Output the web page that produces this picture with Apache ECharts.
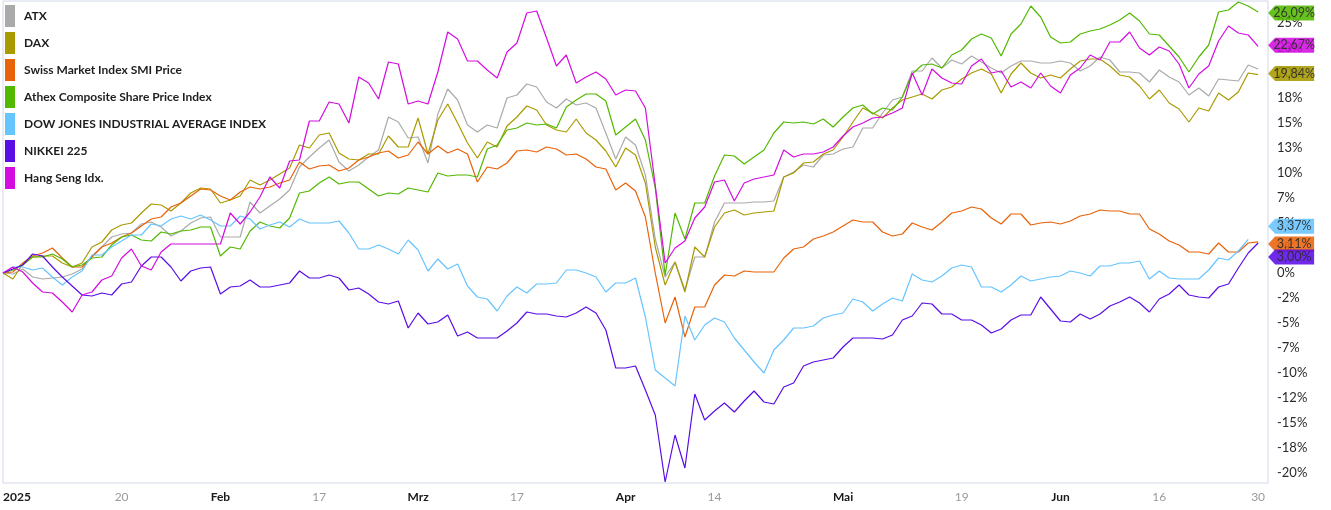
<!DOCTYPE html>
<html>
<head>
<meta charset="utf-8">
<script src="https://cdn.jsdelivr.net/npm/echarts@6/dist/echarts.min.js"></script>
<style>html,body{margin:0;padding:0;background:#fff}#c{width:1331px;height:510px}</style>
</head>
<body>
<div id="c"></div>
<script>
// ---- data ----
const seriesNames = ['ATX', 'DAX', 'Swiss Market Index SMI Price', 'Athex Composite Share Price Index',
  'DOW JONES INDUSTRIAL AVERAGE INDEX', 'NIKKEI 225', 'Hang Seng Idx.'];
const seriesColors = ['#aaaaaa', '#a99a00', '#e8620a', '#52b800', '#66c4ff', '#5b0de6', '#d30de0'];

const atx = [0, -0.1, 0.4, -0.4, -0.6, -0.5, -0.4, -0.1, 0.4, 1.7,
  2.6, 3.6, 3.9, 4.0, 4.9, 5.1, 4.6, 3.7, 4.2, 5.0,
  5.5, 5.6, 3.6, 3.6, 3.6, 7.1, 6.0, 6.7, 7.4, 8.3,
  10.6, 11.6, 12.5, 13.3, 11.1, 10.2, 10.8, 11.6, 12.3, 15.6,
  15.1, 13.5, 13.6, 11.0, 15.9, 18.4, 17.3, 14.8, 14.1, 14.8,
  14.5, 17.5, 17.8, 18.9, 18.6, 17.1, 16.5, 17.4, 16.8, 17.0,
  16.5, 14.0, 11.4, 13.6, 12.8, 9.8, 3.4, -0.4, 1.1, -1.7,
  1.6, 1.6, 5.1, 7.0, 7.0, 7.0, 7.1, 7.1, 7.2, 9.6,
  10.1, 10.8, 10.6, 11.8, 11.9, 12.4, 12.6, 14.5, 14.5, 16.0,
  17.3, 17.6, 20.2, 20.2, 21.5, 20.5, 21.3, 20.9, 21.7, 21.1,
  20.5, 20.0, 20.7, 21.2, 21.2, 21.0, 21.0, 21.2, 21.0, 20.2,
  20.7, 21.6, 21.3, 20.1, 20.1, 20.0, 19.1, 20.3, 19.6, 19.1,
  17.8, 18.5, 17.7, 19.4, 19.3, 19.2, 20.8, 20.4];

const dax = [0, -0.6, 0.9, 1.6, 1.7, 1.7, 1.0, 0.6, 1.0, 2.6,
  3.1, 4.3, 4.8, 5.0, 6.0, 6.9, 6.8, 6.2, 7.0, 8.0,
  8.5, 8.4, 7.0, 7.3, 7.7, 9.3, 8.8, 9.3, 9.9, 10.5,
  12.8, 12.5, 13.8, 14.0, 12.0, 11.4, 11.3, 11.9, 11.9, 13.7,
  12.6, 12.6, 15.5, 11.9, 15.3, 16.9, 15.0, 13.0, 11.5, 13.1,
  12.6, 14.7, 15.6, 16.7, 16.3, 14.8, 14.3, 14.1, 15.4, 14.0,
  13.3, 12.2, 10.6, 12.5, 11.8, 9.0, 2.6, -1.2, 1.1, -1.9,
  2.6, 1.6, 4.6, 6.0, 6.3, 5.8, 6.0, 6.1, 6.2, 9.6,
  10.0, 11.0, 11.1, 11.9, 12.3, 13.6, 15.1, 16.5, 16.0, 15.5,
  16.5, 17.3, 17.6, 17.9, 17.4, 18.3, 18.6, 19.4, 20.0, 20.4,
  19.9, 18.0, 19.9, 21.0, 20.0, 19.5, 19.8, 19.5, 20.4, 21.2,
  21.4, 21.4, 20.7, 19.8, 19.6, 18.7, 17.4, 18.3, 17.0, 16.4,
  15.1, 16.5, 16.2, 18.0, 17.3, 18.1, 20.0, 19.84];

const smi = [0, 0.1, 1.0, 1.7, 2.0, 2.5, 1.5, 0.6, 0.6, 1.6,
  2.6, 3.0, 3.6, 4.0, 4.7, 5.4, 5.6, 6.6, 7.0, 7.7,
  8.4, 8.3, 7.7, 7.3, 8.1, 8.6, 8.4, 8.6, 9.0, 9.3,
  11.1, 10.4, 10.7, 10.8, 10.2, 10.5, 11.3, 11.6, 12.0, 12.2,
  11.5, 11.8, 13.1, 11.9, 12.7, 12.0, 12.4, 11.9, 9.1, 10.6,
  10.4, 11.0, 12.2, 12.3, 12.1, 12.6, 12.4, 11.8, 11.9, 11.4,
  10.6, 10.4, 8.3, 9.0, 8.2, 5.6, 0.0, -5.0, -2.4, -6.4,
  -3.4, -3.4, -1.2, -0.2, -0.3, 0.2, 0.1, 0.1, 0.1, 1.5,
  2.4, 2.6, 3.4, 3.7, 4.1, 4.7, 5.3, 5.1, 5.1, 4.1,
  3.7, 3.9, 5.0, 4.6, 4.3, 5.1, 6.0, 6.2, 6.6, 6.4,
  5.5, 4.9, 5.9, 5.9, 4.8, 5.0, 5.1, 4.9, 5.2, 5.7,
  5.9, 6.3, 6.2, 6.2, 5.9, 5.9, 4.4, 3.9, 3.2, 2.8,
  2.1, 2.1, 1.9, 3.0, 2.1, 2.1, 3.0, 3.11];

const athex = [0, 0.3, 0.8, 1.6, 1.6, 1.9, 1.4, 0.6, 0.8, 1.5,
  1.6, 2.8, 3.6, 3.8, 3.3, 3.2, 4.1, 3.9, 4.2, 4.3,
  4.6, 4.6, 1.7, 2.6, 2.4, 4.2, 5.1, 4.7, 4.5, 5.5,
  8.0, 8.2, 9.0, 9.6, 8.9, 9.1, 9.1, 8.4, 7.7, 8.0,
  7.9, 8.5, 8.3, 8.1, 10.0, 9.7, 9.8, 9.8, 9.6, 12.4,
  12.8, 14.3, 14.5, 15.0, 14.8, 14.9, 14.5, 16.6, 17.3, 17.9,
  17.9, 17.2, 13.8, 14.6, 15.4, 13.3, 8.5, -0.2, 6.0, 3.4,
  7.0, 7.0, 9.7, 11.8, 11.7, 10.9, 11.6, 12.3, 14.0, 15.1,
  15.0, 15.1, 14.9, 15.4, 14.6, 15.6, 16.5, 16.8, 15.9, 16.5,
  16.3, 17.6, 19.9, 20.8, 20.9, 20.5, 21.8, 22.3, 23.4, 23.9,
  23.5, 21.7, 23.9, 24.9, 26.7, 25.6, 23.6, 23.0, 23.1, 23.9,
  24.2, 24.4, 24.8, 25.3, 26.0, 25.2, 23.9, 23.8, 22.7, 21.6,
  20.1, 21.6, 22.8, 26.1, 26.3, 27.1, 26.7, 26.09];

const dowJones = [0, 0.6, 0.6, 0.3, 0.5, -0.4, -1.2, -0.4, 0.2, 1.8,
  1.8, 2.6, 3.2, 3.8, 3.8, 4.9, 4.7, 5.4, 5.7, 5.4,
  5.8, 5.3, 4.7, 4.7, 5.7, 5.4, 4.4, 4.8, 5.1, 4.6,
  5.4, 5.0, 5.0, 5.0, 5.2, 4.0, 2.4, 2.4, 2.8, 2.4,
  1.9, 3.3, 2.3, 0.2, 1.4, 0.4, 0.9, -1.3, -2.4, -2.6,
  -3.8, -2.3, -1.4, -2.0, -1.1, -1.1, -1.0, 0.3, 0.3, 0.0,
  -0.4, -1.9, -1.0, -1.0, -0.5, -4.4, -9.7, -10.5, -11.3, -4.3,
  -6.7, -5.2, -4.5, -4.9, -6.5, -7.7, -8.9, -10.0, -7.7, -6.7,
  -5.5, -5.5, -5.3, -4.5, -4.2, -4.0, -2.6, -2.9, -3.8, -3.1,
  -2.5, -2.8, -0.1, -0.7, -0.9, -0.3, 0.5, 0.8, 0.6, -1.4,
  -1.4, -1.9, -1.2, -0.3, -0.8, -0.6, -0.4, -0.3, 0.2, 0.0,
  -0.3, 0.7, 0.7, 1.0, 1.0, 1.2, -0.6, 0.2, -0.5, -0.6,
  -0.6, -0.6, 0.3, 1.5, 1.3, 2.2, 3.37, null];

const nikkei = [0, 0.4, 0.8, 1.9, 1.7, 0.6, -0.4, -1.3, -2.2, -2.3,
  -2.0, -2.2, -1.1, -0.9, 0.7, 1.6, 1.6, 0.6, -0.8, 0.2,
  0.5, 0.6, -2.1, -1.4, -1.3, -0.7, -1.4, -1.4, -1.2, -1.0,
  0.2, -0.5, -0.5, -0.2, -0.5, -1.7, -1.5, -2.1, -2.9, -3.1,
  -2.8, -5.5, -4.0, -5.1, -4.9, -4.2, -6.3, -5.9, -6.5, -6.5,
  -6.5, -5.8, -5.0, -3.9, -4.1, -4.1, -4.3, -4.4, -4.0, -3.4,
  -4.0, -5.7, -9.5, -9.5, -9.3, -11.7, -14.2, -20.9, -16.2, -19.5,
  -12.1, -14.7, -13.8, -13.0, -13.9, -12.8, -11.8, -12.9, -13.1, -11.4,
  -11.0, -9.3, -8.9, -8.7, -8.5, -7.4, -6.5, -6.5, -6.5, -6.6,
  -6.2, -4.7, -4.3, -3.0, -3.1, -4.1, -4.1, -4.7, -4.7, -5.2,
  -6.0, -5.6, -4.7, -4.2, -4.2, -2.4, -3.6, -4.8, -4.9, -4.1,
  -4.6, -4.1, -3.3, -2.9, -2.4, -3.0, -3.9, -2.6, -2.1, -1.2,
  -2.2, -2.4, -2.5, -1.4, -1.1, 0.5, 2.0, 3.0];

const hangSeng = [0, 0.6, 0.1, -1.0, -1.9, -2.0, -2.9, -3.9, -2.2, -1.9,
  -0.7, -0.3, 1.5, 2.4, 0.7, 0.3, 2.1, 2.9, 2.9, 2.9,
  2.9, 2.9, 2.9, 6.0, 4.9, 6.1, 7.6, 9.6, 8.5, 11.2,
  11.3, 15.2, 15.2, 17.1, 16.9, 15.0, 19.6, 19.0, 17.4, 21.1,
  20.9, 16.9, 17.2, 16.9, 20.1, 24.1, 23.4, 21.2, 21.2, 20.3,
  19.5, 22.1, 23.0, 26.0, 26.2, 23.5, 20.7, 21.8, 19.0, 19.6,
  20.1, 19.4, 17.8, 18.3, 18.2, 16.5, null, 1.0, 2.5, 3.2,
  5.5, 6.6, 9.1, 9.3, 7.2, 9.0, 9.4, 9.6, 9.8, 12.3,
  11.6, 11.9, 11.9, 12.1, 12.6, 13.7, 14.6, 15.0, 15.5, 15.6,
  16.0, 16.5, 20.0, 17.8, 20.4, 19.5, 19.0, 18.9, 20.7, 21.4,
  20.0, 20.2, 18.6, 19.1, 18.5, 20.0, 18.7, 18.0, 19.8, 20.5,
  21.8, 21.3, 23.1, 23.1, 24.1, 22.5, 21.8, 22.6, 22.2, 20.9,
  18.5, 19.9, 20.7, 23.2, 24.7, 24.0, 23.8, 22.67];

const seriesValues = [atx, dax, smi, athex, dowJones, nikkei, hangSeng];
// end-of-line tags: which series show one, and their vertical nudge (px) to avoid overlap
const tagShown = [false, true, true, true, true, true, true];
const tagNudge = [0, -1, 2, 1, -13, 14, -1];

const xTickDates = ['2025-01-02', '2025-01-20', '2025-02-03', '2025-02-17', '2025-03-03', '2025-03-17',
  '2025-04-01', '2025-04-14', '2025-05-01', '2025-05-19', '2025-06-02', '2025-06-16', '2025-06-30'];
const xTickLabels = ['2025', '20', 'Feb', '17', 'Mrz', '17', 'Apr', '14', 'Mai', '19', 'Jun', '16', '30'];
const xTickMajor = [true, false, true, false, true, false, true, false, true, false, true, false, false];

const yTickValues = [25, 22.5, 20, 17.5, 15, 12.5, 10, 7.5, 5, 2.5, 0, -2.5, -5, -7.5, -10, -12.5, -15, -17.5, -20];
const yTickLabels = ['25%', '23%', '20%', '18%', '15%', '13%', '10%', '7%', '5%', '2%', '0%', '-2%', '-5%', '-7%',
  '-10%', '-12%', '-15%', '-18%', '-20%'];

// trading days (weekdays) Jan 2 – Jun 30 2025
const dates = [];
for (let d = new Date(Date.UTC(2025, 0, 2)); d <= new Date(Date.UTC(2025, 5, 30)); d.setUTCDate(d.getUTCDate() + 1)) {
  const w = d.getUTCDay();
  if (w !== 0 && w !== 6) dates.push(d.toISOString().slice(0, 10));
}
const xTickIdx = xTickDates.map(d => dates.indexOf(d));

const FONT = 'Lato, "Noto Sans", sans-serif';
const lastIdx = dates.length - 1;

const series = seriesNames.map((name, k) => {
  const vals = seriesValues[k];
  let last = null;
  for (let i = vals.length - 1; i >= 0; i--) { if (vals[i] != null) { last = vals[i]; break; } }
  const s = {
    name, type: 'line',
    data: vals.map((v, i) => [i, v]),
    showSymbol: false, symbol: 'none',
    connectNulls: true,
    lineStyle: { width: 1.2, color: seriesColors[k] },
    itemStyle: { color: seriesColors[k] },
    emphasis: { disabled: true },
    z: 2 + k
  };
  if (tagShown[k]) {
    s.markPoint = {
      silent: true,
      symbol: 'path://M0,7.5 L7,0 L46,0 L46,15 L7,15 Z',
      symbolSize: [46, 15],
      symbolKeepAspect: false,
      symbolOffset: [33, tagNudge[k]],
      itemStyle: { color: seriesColors[k], opacity: 0.88 },
      label: {
        show: true, position: 'inside', offset: [3, 0],
        color: '#2a2a2a', fontFamily: FONT, fontSize: 12.5,
        formatter: p => p.value.toFixed(2).replace('.', ',') + '%'
      },
      data: [{ coord: [lastIdx, last], value: last }]
    };
  }
  return s;
});

const chart = echarts.init(document.getElementById('c'), null, { renderer: 'canvas' });
chart.setOption({
  animation: false,
  backgroundColor: '#ffffff',
  textStyle: { fontFamily: FONT },
  grid: { left: 1, top: 1, width: 1267, bottom: 27, show: true, borderColor: '#d3d8ea', borderWidth: 1, backgroundColor: 'transparent' },
  legend: {
    orient: 'vertical', left: 5, top: 5, padding: 0,
    itemWidth: 10, itemHeight: 22, itemGap: 5, icon: 'rect',
    selectedMode: false,
    textStyle: { fontFamily: FONT, fontSize: 12, fontWeight: 'bold', color: '#1e1e1e', padding: [0, 0, 0, 4] },
    data: seriesNames
  },
  xAxis: {
    type: 'value', min: 0, max: dates.length,
    splitLine: { show: false }, axisTick: { show: false },
    axisLine: { show: false },
    axisLabel: {
      customValues: xTickIdx,
      alignMinLabel: 'left',
      margin: 8,
      formatter: v => {
        const k = xTickIdx.indexOf(v);
        if (k < 0) return '';
        return (xTickMajor[k] ? '{b|' : '{g|') + xTickLabels[k] + '}';
      },
      rich: {
        b: { fontFamily: FONT, fontSize: 12, fontWeight: 'bold', color: '#1a1a1a' },
        g: { fontFamily: FONT, fontSize: 12, color: '#9a9a9a' }
      }
    }
  },
  yAxis: {
    type: 'value', position: 'right', min: -21.0, max: 27.2,
    splitLine: { show: false }, axisTick: { show: false }, axisLine: { show: false },
    axisLabel: {
      customValues: yTickValues,
      margin: 9, fontFamily: FONT, fontSize: 13, color: '#2a2a2a',
      formatter: v => {
        const k = yTickValues.findIndex(t => Math.abs(t - v) < 1e-6);
        return k < 0 ? '' : yTickLabels[k];
      }
    }
  },
  series
});
</script>
</body>
</html>
